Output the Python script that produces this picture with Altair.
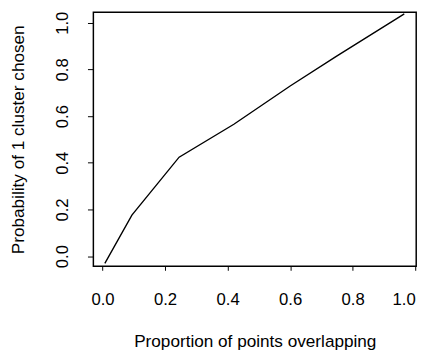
import altair as alt
import pandas as pd

# Data
proportion = [0.0075, 0.094, 0.245, 0.42, 0.60, 0.75, 0.965]
probability = [-0.031, 0.176, 0.424, 0.565, 0.729, 0.858, 1.038]
tick_values = [0.0, 0.2, 0.4, 0.6, 0.8, 1.0]

df = pd.DataFrame({"x": proportion, "y": probability})

FONT = "Liberation Sans"

chart = (
    alt.Chart(df)
    .mark_line(color="black", strokeWidth=1.4, clip=True)
    .encode(
        x=alt.X(
            "x:Q",
            scale=alt.Scale(domain=[-0.0292, 1.0031], nice=False, zero=False),
            axis=alt.Axis(
                values=tick_values,
                format=".1f",
                title="Proportion of points overlapping",
                grid=False,
                domain=False,
                ticks=True,
                tickSize=4,
                tickColor="black",
                tickWidth=1,
                labelFont=FONT,
                labelFontSize=17,
                labelColor="black",
                labelPadding=22,
                labelBaseline="top",
                titleFont=FONT,
                titleFontSize=17.5,
                titleFontWeight="normal",
                titleColor="black",
                titleBaseline="alphabetic",
                titleY=81.6,
            ),
        ),
        y=alt.Y(
            "y:Q",
            scale=alt.Scale(domain=[-0.0437, 1.045], nice=False, zero=False),
            axis=alt.Axis(
                values=tick_values,
                format=".1f",
                title="Probability of 1 cluster chosen",
                grid=False,
                domain=False,
                ticks=True,
                tickSize=6,
                tickColor="black",
                tickWidth=1,
                labelFont=FONT,
                labelFontSize=17,
                labelColor="black",
                labelAngle=270,
                labelAlign="center",
                labelBaseline="alphabetic",
                labelPadding=20.5,
                titleFont=FONT,
                titleFontSize=17.5,
                titleFontWeight="normal",
                titleColor="black",
                titleBaseline="alphabetic",
                titleX=-70.7,
            ),
        ),
    )
    .properties(
        width=329,
        height=259,
        background="white",
        autosize=alt.AutoSizeParams(type="none"),
        padding={"left": 87, "top": 1, "right": 11, "bottom": 85},
    )
    .configure_view(stroke="black", strokeWidth=1.5)
)

chart.save("out.html", embed_options={"renderer": "svg", "actions": False})
